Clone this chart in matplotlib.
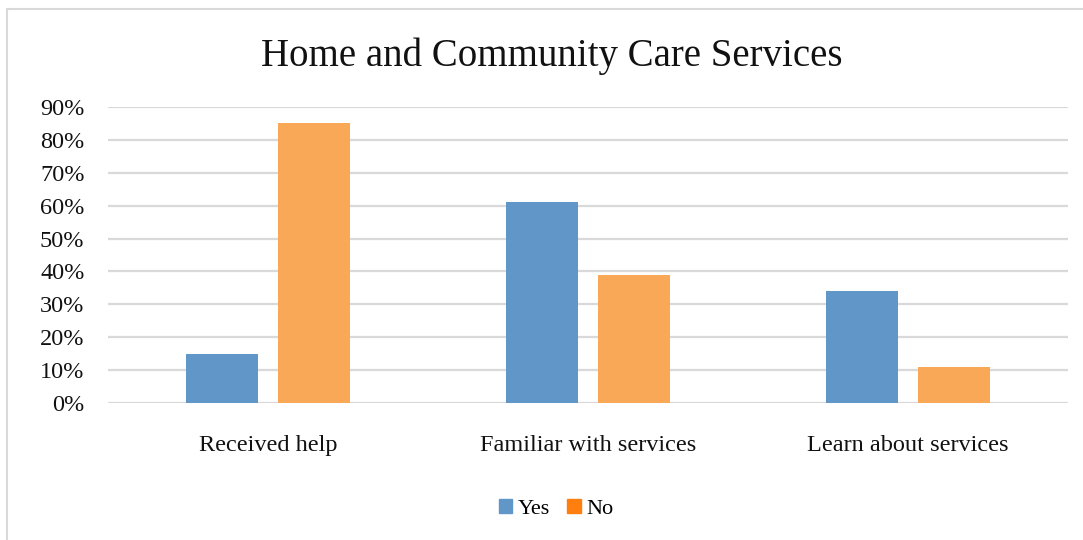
import numpy as np
import matplotlib.pyplot as plt
from matplotlib.patches import Rectangle
from matplotlib.ticker import PercentFormatter

categories = ["Received help", "Familiar with services", "Learn about services"]
yes_vals = [15, 61, 34]
no_vals = [85, 39, 11]
yticks = [0, 10, 20, 30, 40, 50, 60, 70, 80, 90]

blue = "#6196c9"
orange = "#f9a857"
legend_orange = "#ff7f0e"
grid = "#d9d9d9"

plt.rcParams["font.family"] = ["Liberation Serif", "DejaVu Serif"]

W, H = 1083, 540
fig = plt.figure(figsize=(W / 100, H / 100), dpi=100)

# chart frame
fig.patches.append(Rectangle((7 / W, -0.1), 1.2, (H - 9) / H + 0.1,
                             transform=fig.transFigure, fill=False,
                             edgecolor="#d9d9d9", linewidth=1.5))

ax = fig.add_axes([108 / W, 1 - 403 / H, 960 / W, (403 - 107) / H])
x = np.arange(len(categories))
bw = 0.225
gap = 0.06
ax.bar(x - (bw + gap) / 2, yes_vals, bw, color=blue, zorder=3)
ax.bar(x + (bw + gap) / 2, no_vals, bw, color=orange, zorder=3)

ax.set_xlim(-0.5, len(categories) - 0.5)
ax.set_ylim(0, 90)
ax.set_yticks(yticks)
ax.yaxis.set_major_formatter(PercentFormatter(decimals=0))
ax.set_xticks(x)
ax.set_xticklabels(categories)
ax.tick_params(axis="both", length=0, labelsize=17.5, colors="#111111")
ax.tick_params(axis="y", pad=17)
ax.tick_params(axis="x", pad=23)
ax.yaxis.grid(True, color=grid, linewidth=1.6, zorder=0)
for s in ax.spines.values():
    s.set_visible(False)

fig.text(552 / W, 1 - 56 / H, "Home and Community Care Services",
         ha="center", va="center", fontsize=28, color="#111111")

handles = [Rectangle((0, 0), 1, 1, color=blue),
           Rectangle((0, 0), 1, 1, color=legend_orange)]
fig.legend(handles, ["Yes", "No"], loc="center", ncol=2,
           bbox_to_anchor=(556 / W, 1 - 509 / H), frameon=False,
           fontsize=16, handlelength=0.6, handleheight=0.6,
           handletextpad=0.25, columnspacing=0.8)

fig.savefig("out.png", dpi=100)
